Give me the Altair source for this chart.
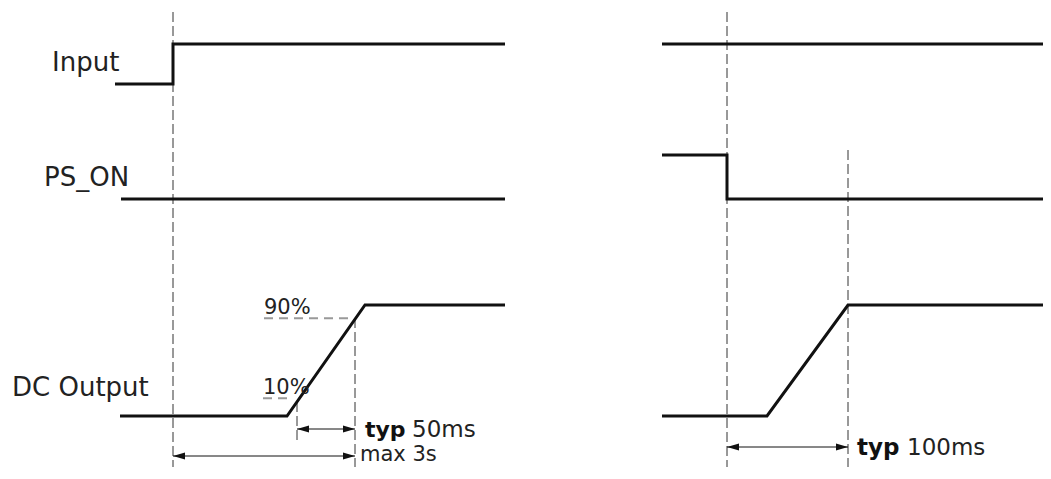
import altair as alt
import pandas as pd

# ---------------- data ----------------
# time (diagram units) and logic level (0 = low, 1 = high) for every trace
input_on_t = [115, 173, 173, 505]
input_on_lv = [0, 0, 1, 1]
pson_on_t = [121, 505]
pson_on_lv = [0, 0]
dc_on_t = [120, 287, 365, 505]
dc_on_lv = [0, 0, 1, 1]

input_off_t = [662, 1051]
input_off_lv = [1, 1]
pson_off_t = [662, 727, 727, 1051]
pson_off_lv = [1, 1, 0, 0]
dc_off_t = [662, 767, 848, 1051]
dc_off_lv = [0, 0, 1, 1]

signal_names = ["Input", "PS_ON", "DC Output"]
label_t = [52, 44, 12]

# event instants (vertical dashed guides): time, top, bottom
event_t = [173, 355, 297, 727, 848]
event_top = [12, 318, 402, 12, 150]
event_bottom = [479, 479, 440, 479, 479]

# threshold marks on the DC output rise
thr_labels = ["90%", "10%"]
thr_level = [0.88, 0.16]
thr_t0 = [264, 263]
thr_t1 = [352, 293]

# timing annotations
span_typ = ["typ", "", "typ"]
span_text = ["50ms", "max 3s", "100ms"]
span_t0 = [297, 173, 727]
span_t1 = [355, 355, 848]

# ---------------- layout ----------------
W, H = 1035, 459
rows = {"Input": (84, 44), "PS_ON": (199, 155), "DC Output": (416, 305)}
label_base = [71, 186, 396]
span_y = [429, 456, 447]
text_dy = [1, -1, 1]
val_size = [23, 21, 23]
typ_size = [22, 22, 23]

xs = alt.Scale(domain=[8, 8 + W], nice=False, zero=False)
ys = alt.Scale(domain=[8, 8 + H], nice=False, zero=False, reverse=True)
X = lambda f: alt.X(f, type="quantitative", scale=xs, axis=None)
Y = lambda f: alt.Y(f, type="quantitative", scale=ys, axis=None)

traces = [
    ("Input", "on", input_on_t, input_on_lv),
    ("PS_ON", "on", pson_on_t, pson_on_lv),
    ("DC Output", "on", dc_on_t, dc_on_lv),
    ("Input", "off", input_off_t, input_off_lv),
    ("PS_ON", "off", pson_off_t, pson_off_lv),
    ("DC Output", "off", dc_off_t, dc_off_lv),
]
wrows = []
for sig, panel, ts, lvs in traces:
    lo, hi = rows[sig]
    for i, (t, lv) in enumerate(zip(ts, lvs)):
        wrows.append({"trace": sig + "-" + panel, "i": i, "t": t,
                      "y": lo + (hi - lo) * lv})
wave_df = pd.DataFrame(wrows)

waves = alt.Chart(wave_df).mark_line(color="#111", strokeWidth=3,
                                     strokeJoin="miter").encode(
    x=X("t"), y=Y("y"), detail="trace:N", order="i:Q")

ev_df = pd.DataFrame({"t": event_t, "y0": event_top, "y1": event_bottom})
events = alt.Chart(ev_df).mark_rule(color="#333", strokeWidth=1,
                                    strokeDash=[10, 4]).encode(
    x=X("t"), y=Y("y0"), y2="y1")

lo, hi = rows["DC Output"]
thr_df = pd.DataFrame({"label": thr_labels, "t0": thr_t0, "t1": thr_t1,
                       "y": [lo + (hi - lo) * v for v in thr_level]})
thr_lines = alt.Chart(thr_df).mark_rule(color="#999", strokeWidth=2,
                                        strokeDash=[9, 6]).encode(
    x=X("t0"), x2="t1", y=Y("y"))
thr_text = alt.Chart(thr_df).mark_text(align="left", baseline="alphabetic",
                                       font="DejaVu Sans", fontSize=21,
                                       color="#222", dy=-4).encode(
    x=X("t0"), y=Y("y"), text="label:N")

sig_df = pd.DataFrame({"name": signal_names, "t": label_t, "y": label_base})
sig_text = alt.Chart(sig_df).mark_text(align="left", baseline="alphabetic",
                                       font="DejaVu Sans", fontSize=26,
                                       color="#222").encode(
    x=X("t"), y=Y("y"), text="name:N")

sp_df = pd.DataFrame({"typ": span_typ, "txt": span_text, "t0": span_t0,
                      "t1": span_t1, "y": span_y, "fs": val_size,
                      "ts": typ_size})
sp_df["ty"] = sp_df["y"] + text_dy
sp_df["tt"] = sp_df["t1"] + [10, 6, 9]
sp_df["tx"] = sp_df["t1"] + [57, 5, 59]
shafts = alt.Chart(sp_df).mark_rule(color="#111", strokeWidth=1).encode(
    x=X("t0"), x2="t1", y=Y("y"))
head_l = alt.Chart(sp_df).mark_point(shape="M0,0L1,-0.3L1,0.3Z", filled=True,
                                     size=576, color="#111", opacity=1,
                                     strokeWidth=0).encode(x=X("t0"), y=Y("y"))
head_r = alt.Chart(sp_df).mark_point(shape="M0,0L-1,-0.3L-1,0.3Z", filled=True,
                                     size=576, color="#111", opacity=1,
                                     strokeWidth=0).encode(x=X("t1"), y=Y("y"))
typ_text = alt.Chart(sp_df).mark_text(align="left", baseline="middle",
                                      font="DejaVu Sans",
                                      fontWeight="bold", color="#111").encode(
    x=X("tt"), y=Y("ty"), text="typ:N",
    size=alt.Size("ts:Q", scale=None, legend=None))
val_text = alt.Chart(sp_df).mark_text(align="left", baseline="middle",
                                      font="DejaVu Sans",
                                      color="#222").encode(
    x=X("tx"), y=Y("ty"), text="txt:N",
    size=alt.Size("fs:Q", scale=None, legend=None))

chart = alt.layer(events, thr_lines, waves, shafts, head_l, head_r,
                  sig_text, thr_text, typ_text, val_text).properties(
    width=W, height=H, padding=0, autosize=alt.AutoSizeParams(type="none"),
    background="white"
).configure_view(stroke=None)

chart.save("out.html", embed_options={"renderer": "svg", "actions": False})
